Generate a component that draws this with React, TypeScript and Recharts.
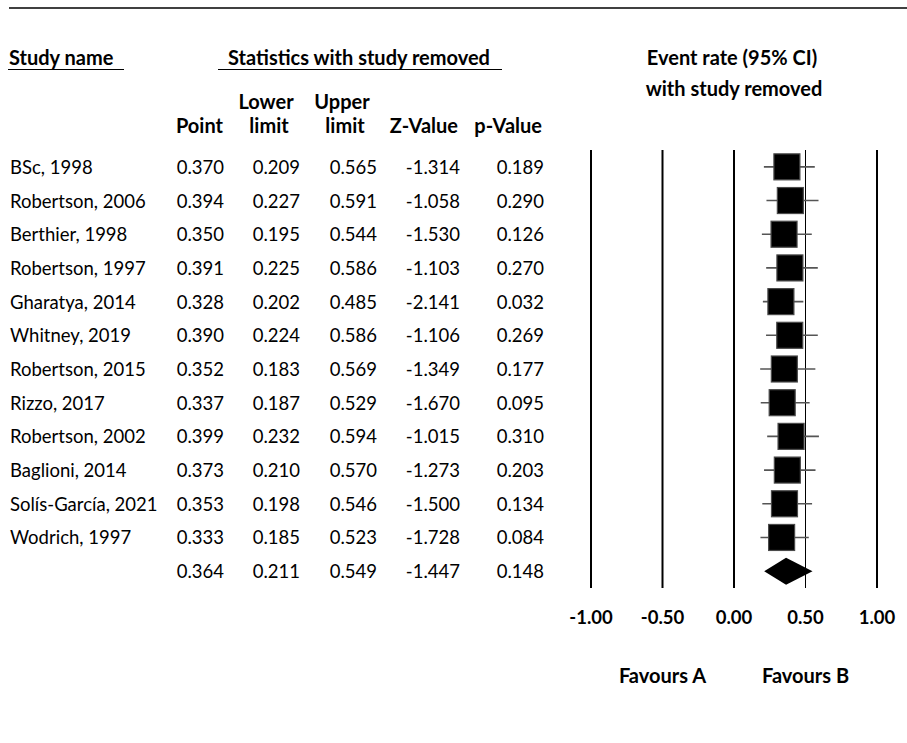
import React from 'react';
import {
  ComposedChart,
  Scatter,
  XAxis,
  YAxis,
  ErrorBar,
  ReferenceLine,
  ReferenceArea,
  Customized,
} from 'recharts';

const studies = [
  'BSc, 1998',
  'Robertson, 2006',
  'Berthier, 1998',
  'Robertson, 1997',
  'Gharatya, 2014',
  'Whitney, 2019',
  'Robertson, 2015',
  'Rizzo, 2017',
  'Robertson, 2002',
  'Baglioni, 2014',
  'Solís-García, 2021',
  'Wodrich, 1997',
];
const points = [0.37, 0.394, 0.35, 0.391, 0.328, 0.39, 0.352, 0.337, 0.399, 0.373, 0.353, 0.333];
const lowers = [0.209, 0.227, 0.195, 0.225, 0.202, 0.224, 0.183, 0.187, 0.232, 0.21, 0.198, 0.185];
const uppers = [0.565, 0.591, 0.544, 0.586, 0.485, 0.586, 0.569, 0.529, 0.594, 0.57, 0.546, 0.523];
const zValues = [-1.314, -1.058, -1.53, -1.103, -2.141, -1.106, -1.349, -1.67, -1.015, -1.273, -1.5, -1.728];
const pValues = [0.189, 0.29, 0.126, 0.27, 0.032, 0.269, 0.177, 0.095, 0.31, 0.203, 0.134, 0.084];

// pooled result shown on the last row
const overallName = 'Overall';
const overallPoint = 0.364;
const overallLower = 0.211;
const overallUpper = 0.549;
const overallZ = -1.447;
const overallP = 0.148;

const xTicks = [-1, -0.5, 0, 0.5, 1];
const favourTicks = [-0.5, 0.5];
const favourLabels = ['Favours A', 'Favours B'];

const FONT = 'Lato, sans-serif';
const BODY_SIZE = 18.5;
const HEAD_SIZE = 20;

const rows = [
  ...studies.map((name, i) => ({
    name,
    point: points[i],
    lower: lowers[i],
    upper: uppers[i],
    z: zValues[i],
    p: pValues[i],
    err: [points[i] - lowers[i], uppers[i] - points[i]],
    summary: false,
  })),
  {
    name: overallName,
    point: overallPoint,
    lower: overallLower,
    upper: overallUpper,
    z: overallZ,
    p: overallP,
    err: [0, 0],
    summary: true,
  },
];

const rowByName = new Map(rows.map((r) => [r.name, r]));

function RowTick(props: any) {
  const { y, payload } = props;
  const row = rowByName.get(payload.value);
  if (!row) return null;
  const cells: [number, string][] = [
    [224, row.point.toFixed(3)],
    [300, row.lower.toFixed(3)],
    [377, row.upper.toFixed(3)],
    [460, row.z.toFixed(3)],
    [544, row.p.toFixed(3)],
  ];
  return (
    <g fontFamily={FONT} fontSize={BODY_SIZE} fill="#000">
      {!row.summary && (
        <text x={10} y={y} dominantBaseline="central">
          {row.name}
        </text>
      )}
      {cells.map(([cx, label]) => (
        <text key={cx} x={cx} y={y} textAnchor="end" dominantBaseline="central">
          {label}
        </text>
      ))}
    </g>
  );
}

function AxisTick(props: any) {
  const { x, y, payload } = props;
  const fav = favourTicks.indexOf(payload.value);
  return (
    <g fontFamily={FONT} fontWeight="bold" fill="#000">
      <text x={x} y={y + 29} fontSize={BODY_SIZE} textAnchor="middle" dominantBaseline="central">
        {payload.value.toFixed(2)}
      </text>
      {fav >= 0 && (
        <text x={x} y={y + 87} fontSize={HEAD_SIZE} textAnchor="middle" dominantBaseline="central">
          {favourLabels[fav]}
        </text>
      )}
    </g>
  );
}

function StudySquare(props: any) {
  const { cx, cy, payload } = props;
  if (payload.summary) return <g />;
  return (
    <rect x={cx - 13} y={cy - 13} width={26} height={26} fill="#000" stroke="#4a4a4a" strokeWidth={1.2} />
  );
}

function Diamond(props: any) {
  const { x, y, width, height } = props;
  const mid = y + height / 2;
  const tip = x + (width * (overallPoint - overallLower)) / (overallUpper - overallLower);
  const half = 13.5;
  return (
    <polygon
      points={`${x},${mid} ${tip},${mid - half} ${x + width},${mid} ${tip},${mid + half}`}
      fill="#000"
    />
  );
}

function Headers() {
  const bold = { fontFamily: FONT, fontSize: HEAD_SIZE, fontWeight: 'bold' as const, fill: '#000' };
  return (
    <g>
      <line x1={9} x2={907} y1={8} y2={8} stroke="#404040" strokeWidth={2} />
      <text {...bold} x={9} y={57} dominantBaseline="central">Study name</text>
      <line x1={8} x2={124} y1={69.5} y2={69.5} stroke="#000" strokeWidth={1.2} />
      <text {...bold} x={359} y={57} textAnchor="middle" dominantBaseline="central">
        Statistics with study removed
      </text>
      <line x1={218} x2={502} y1={69.5} y2={69.5} stroke="#000" strokeWidth={1.2} />
      <text {...bold} x={223} y={125} textAnchor="end" dominantBaseline="central">Point</text>
      <text {...bold} x={266} y={101} textAnchor="middle" dominantBaseline="central">Lower</text>
      <text {...bold} x={269} y={125} textAnchor="middle" dominantBaseline="central">limit</text>
      <text {...bold} x={342} y={101} textAnchor="middle" dominantBaseline="central">Upper</text>
      <text {...bold} x={345} y={125} textAnchor="middle" dominantBaseline="central">limit</text>
      <text {...bold} x={458} y={125} textAnchor="end" dominantBaseline="central">Z-Value</text>
      <text {...bold} x={542} y={125} textAnchor="end" dominantBaseline="central">p-Value</text>
      <text {...bold} x={732} y={57} textAnchor="middle" dominantBaseline="central">
        Event rate (95% CI)
      </text>
      <text {...bold} x={734} y={88} textAnchor="middle" dominantBaseline="central">
        with study removed
      </text>
    </g>
  );
}

export default function App() {
  return (
    <div style={{ position: 'absolute', left: 0, top: 0, background: '#fff' }}>
      <ComposedChart
        width={907}
        height={743}
        data={rows}
        layout="vertical"
        margin={{ top: 150, right: 30, bottom: 55, left: 0 }}
      >
        <XAxis
          type="number"
          dataKey="point"
          domain={[-1, 1]}
          ticks={xTicks}
          allowDataOverflow
          axisLine={false}
          tickLine={false}
          tickSize={0}
          tickMargin={0}
          height={100}
          tick={<AxisTick />}
        />
        <YAxis
          type="category"
          dataKey="name"
          scale="band"
          width={591}
          axisLine={false}
          tickLine={false}
          interval={0}
          tick={<RowTick />}
        />
        {xTicks.map((v) => (
          <ReferenceLine key={v} x={v} stroke="#000" strokeWidth={v === 0.5 ? 1 : 2} />
        ))}
        <Scatter dataKey="point" shape={<StudySquare />} isAnimationActive={false}>
          <ErrorBar dataKey="err" direction="x" width={0} stroke="#555" strokeWidth={1.6} isAnimationActive={false} />
        </Scatter>
        <ReferenceArea
          x1={overallLower}
          x2={overallUpper}
          y1={overallName}
          y2={overallName}
          ifOverflow="visible"
          shape={<Diamond />}
        />
        <Customized component={Headers} />
      </ComposedChart>
    </div>
  );
}
